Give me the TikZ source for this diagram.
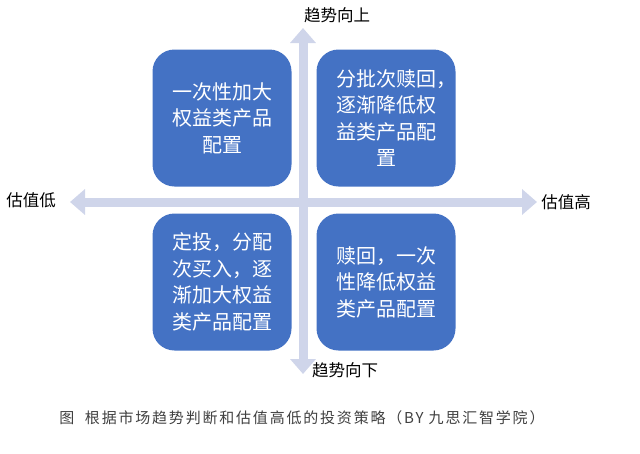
\documentclass[tikz,border=0pt]{standalone}
\usepackage{fontspec}
\setmainfont{Noto Sans CJK SC}
\newfontfamily\captionfont[LetterSpace=12]{Noto Sans CJK SC}
\usetikzlibrary{arrows.meta}

\definecolor{boxblue}{RGB}{68,114,196}
\definecolor{axisgray}{RGB}{207,213,234}
\definecolor{captiongray}{RGB}{64,64,64}

\tikzset{
    quad box/.style = {
        fill=boxblue,
        rounded corners=22pt,
        minimum width=139pt,
        minimum height=137pt,
        text width=100pt,
        align=center,
        inner sep=0,
        text=white,
        font=\fontsize{20}{26.5}\selectfont,
    },
    axis arrow/.style = {
        draw=axisgray,
        line width=9pt,
        {Triangle[width=25pt,length=15pt]}-{Triangle[width=25pt,length=15pt]},
    },
    axis label/.style = {
        inner sep=0,
        outer sep=0,
        font=\fontsize{16.5}{18}\selectfont,
    },
    caption line/.style = {
        inner sep=0,
        text=captiongray,
        font=\captionfont\fontsize{15}{17}\selectfont,
    },
}

\begin{document}
\begin{tikzpicture}[x=1pt,y=-1pt]

    \useasboundingbox (0,0) rectangle (640,453);

    % axes
    \coordinate (low end) at (70,202);
    \coordinate (high end) at (537,202);
    \coordinate (up end) at (303,28);
    \coordinate (down end) at (303,374);
    \draw[axis arrow] (low end) -- (high end);
    \draw[axis arrow] (down end) -- (up end);

    % axis labels
    \node[axis label] (up label) at (337,15) {趋势向上};
    \node[axis label] (down label) at (345,370) {趋势向下};
    \node[axis label] (low label) at (31,200) {估值低};
    \node[axis label] (high label) at (566,202) {估值高};

    % quadrant boxes
    \foreach \cx/\cy/\txt [count=\n] in {
        222/118/{一次性加大\\权益类产品\\配置},
        386/118/{分批次赎回\rlap{，}\\逐渐降低权\\益类产品配\\置},
        222/282/{定投，分配\\次买入，逐\\渐加大权益\\类产品配置},
        386/282/{赎回，一次\\性降低权益\\类产品配置}
    } {
        \node[quad box] (box\n) at (\cx,\cy) {\txt};
    }

    % caption below the chart
    \node[caption line] (caption) at (302,418) {图\hspace{0.7em}根据市场趋势判断和估值高低的投资策略（BY 九思汇智学院）};

\end{tikzpicture}
\end{document}
